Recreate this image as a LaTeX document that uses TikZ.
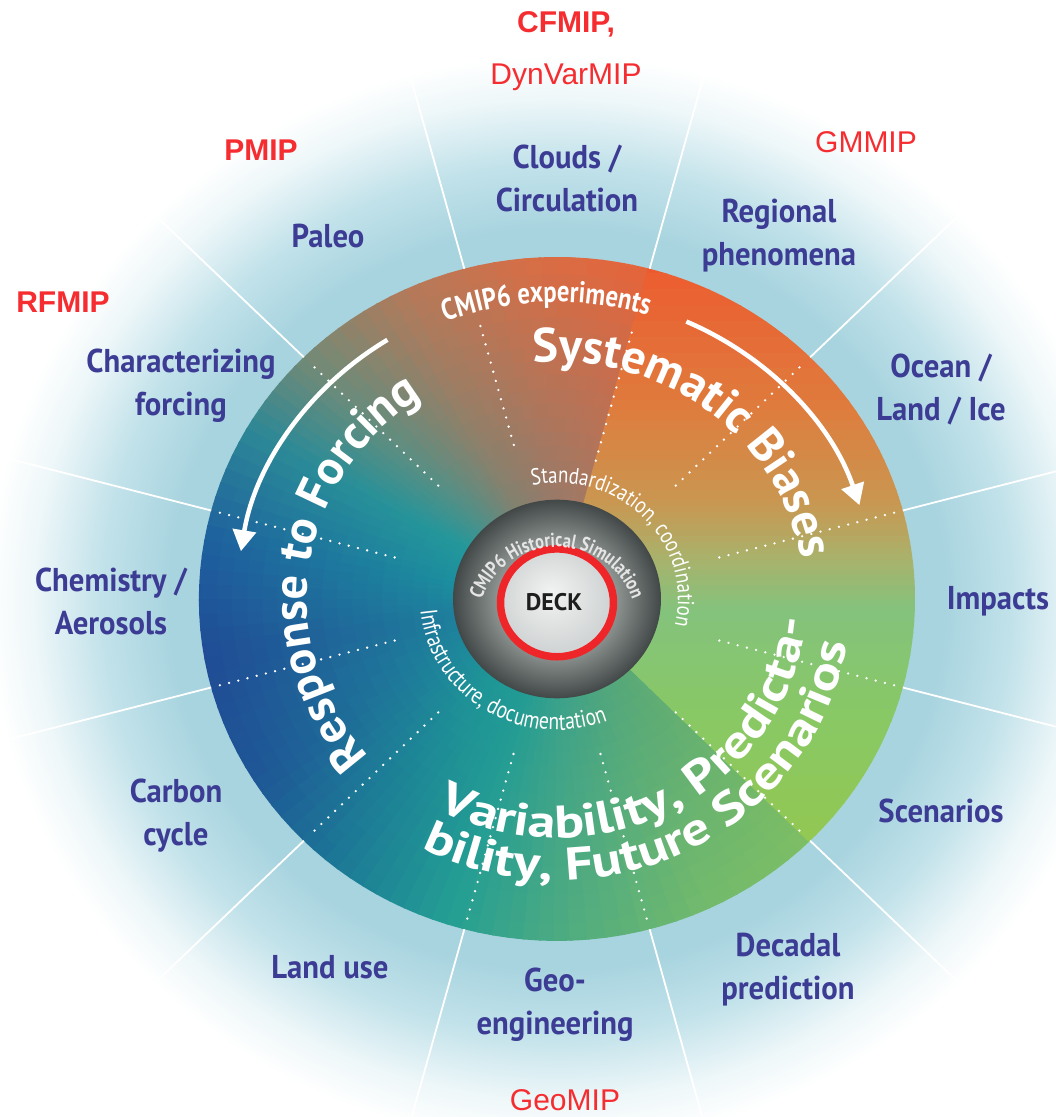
\documentclass[tikz,border=0pt]{standalone}
\usepackage{fontspec}
\setmainfont{PT Sans}
\newfontfamily\lblfont[FakeStretch=0.93]{PT Sans}
\newfontfamily\narrowfont[FakeStretch=0.82]{PT Sans}
\newfontfamily\widefont[FakeStretch=1.21]{PT Sans}
\newfontfamily\mipfont{Liberation Sans}
\usetikzlibrary{arrows.meta,decorations.text}

\definecolor{lblblue}{RGB}{60,60,148}
\definecolor{mipred}{RGB}{246,45,48}
\definecolor{halo}{RGB}{168,212,223}
\definecolor{halomid}{RGB}{194,226,234}
\definecolor{halofade}{RGB}{238,247,249}
\definecolor{hubdark}{RGB}{66,72,72}
\definecolor{hublight}{RGB}{150,156,152}
\definecolor{deckface}{RGB}{242,243,243}
\definecolor{deckedge}{RGB}{210,213,213}
\definecolor{deckred}{RGB}{238,38,42}
\definecolor{deckink}{RGB}{30,30,30}

\definecolor{sa0}{RGB}{238,86,46}
\definecolor{sa1}{RGB}{224,122,60}
\definecolor{sa2}{RGB}{202,150,80}
\definecolor{sa3}{RGB}{168,178,108}
\definecolor{sa4}{RGB}{132,195,124}
\definecolor{sa5}{RGB}{136,200,100}
\definecolor{sa6}{RGB}{148,200,80}

\definecolor{ri0}{RGB}{165,120,98}   \definecolor{ro0}{RGB}{230,100,58}
\definecolor{ri1}{RGB}{152,122,104}  \definecolor{ro1}{RGB}{214,110,70}
\definecolor{ri2}{RGB}{128,130,112}  \definecolor{ro2}{RGB}{180,122,90}
\definecolor{ri3}{RGB}{75,145,138}   \definecolor{ro3}{RGB}{115,138,118}
\definecolor{ri4}{RGB}{35,152,155}   \definecolor{ro4}{RGB}{45,135,150}
\definecolor{ri5}{RGB}{28,142,158}   \definecolor{ro5}{RGB}{30,96,158}
\definecolor{ri6}{RGB}{30,125,156}   \definecolor{ro6}{RGB}{32,76,150}
\definecolor{ri7}{RGB}{30,138,155}   \definecolor{ro7}{RGB}{30,86,150}
\definecolor{ri8}{RGB}{30,150,150}   \definecolor{ro8}{RGB}{28,120,150}
\definecolor{ri9}{RGB}{35,155,148}   \definecolor{ro9}{RGB}{35,158,148}
\definecolor{ri10}{RGB}{60,162,138}  \definecolor{ro10}{RGB}{80,172,128}
\definecolor{ri11}{RGB}{80,166,125}  \definecolor{ro11}{RGB}{115,186,108}
\definecolor{ri12}{RGB}{92,170,118}  \definecolor{ro12}{RGB}{125,190,100}

\pgfdeclareradialshading{haloshade}{\pgfpoint{0bp}{0bp}}{color(0bp)=(halo); color(17bp)=(halo); color(20bp)=(halomid); color(23bp)=(halofade); color(25bp)=(white); color(50bp)=(white)}
\pgfdeclareradialshading{hubshade}{\pgfpoint{0bp}{0bp}}{color(0bp)=(hublight); color(13bp)=(hublight); color(25bp)=(hubdark); color(50bp)=(hubdark)}
\pgfdeclareradialshading{deckshade}{\pgfpoint{-3bp}{5bp}}{color(0bp)=(deckface); color(25bp)=(deckedge); color(50bp)=(deckedge)}

\newcommand\bigring{\color{white}\bfseries\fontsize{48}{50}\selectfont}
\newcommand\varring{\color{white}\widefont\bfseries\fontsize{46}{48}\selectfont}
\newcommand\smallring{\color{white}\narrowfont\fontsize{23}{26}\selectfont}
\newcommand\lowring{\color{white}\narrowfont\fontsize{24}{26}\selectfont}
\newcommand\toparc{\color{white}\narrowfont\bfseries\fontsize{30}{32}\selectfont}
\newcommand\hubring{\color{white!90!black}\narrowfont\bfseries\fontsize{20}{22}\selectfont}

\begin{document}
\begin{tikzpicture}[x=1pt, y=1pt,
  ringspoke/.style={white, line width=1.8pt},
  ringdots/.style={white, line width=2.6pt, line cap=round, dash pattern=on 0pt off 9.5pt},
  flowarrow/.style={white, line width=4.5pt, -{Triangle[length=21pt, width=23pt]}},
  lbl/.style={text=lblblue, align=center, inner sep=0pt, font=\lblfont\bfseries\fontsize{33}{43}\selectfont},
  mip/.style={text=mipred, anchor=base, inner sep=0pt, font=\mipfont\fontsize{30}{34}\selectfont},
  mipbold/.style={mip, font=\mipfont\bfseries\fontsize{30}{34}\selectfont}]

\useasboundingbox (-557,-518) rectangle (499,599);
\fill[white] (-557,-518) rectangle (499,599);

\begin{scope}[yscale=0.955]
\shade[shading=haloshade] (0,0) circle[radius=570pt];

\begin{scope}
\clip (0,0) -- (75:358pt) arc[start angle=75, end angle=315, radius=358pt] -- cycle;
\foreach \sa/\sb/\ia/\ib/\oa/\ob in {75/95/ri0/ri1/ro0/ro1, 95/115/ri1/ri2/ro1/ro2,
    115/135/ri2/ri3/ro2/ro3, 135/150/ri3/ri4/ro3/ro4, 150/170/ri4/ri5/ro4/ro5,
    170/190/ri5/ri6/ro5/ro6, 190/212/ri6/ri7/ro6/ro7, 212/232/ri7/ri8/ro7/ro8,
    232/252/ri8/ri9/ro8/ro9, 252/272/ri9/ri10/ro9/ro10, 272/295/ri10/ri11/ro10/ro11,
    295/315/ri11/ri12/ro11/ro12}
  \foreach \i in {0,...,7}{
    \pgfmathsetmacro\anga{\sa+(\sb-\sa)*\i/8}
    \pgfmathsetmacro\angb{\sa+(\sb-\sa)*(\i+1)/8+0.4}
    \pgfmathtruncatemacro\mix{100-(\i+0.5)*12.5}
    \colorlet{cin}{\ia!\mix!\ib}
    \colorlet{cout}{\oa!\mix!\ob}
    \foreach \rad in {100,115,...,355}{
      \pgfmathsetmacro\radb{\rad+16}
      \pgfmathtruncatemacro\rmix{max(0,min(100,(\rad+7.5-110)/2.4))}
      \fill[cout!\rmix!cin] (\anga:\rad pt) arc[start angle=\anga, end angle=\angb, radius=\rad pt]
        -- (\angb:\radb pt) arc[start angle=\angb, end angle=\anga, radius=\radb pt] -- cycle;
    }
  }
\end{scope}

\begin{scope}
\clip (0,0) -- (-45.3:358pt) arc[start angle=-45.3, end angle=75.3, radius=358pt] -- cycle;
\foreach \ya/\yb/\ca/\cb in {375/208/sa0/sa1, 208/104/sa1/sa2, 104/41/sa2/sa3,
    41/-12/sa3/sa4, -12/-127/sa4/sa5, -127/-270/sa5/sa6}
  \foreach \i in {0,...,9}{
    \pgfmathsetmacro\ytop{\ya+(\yb-\ya)*\i/10}
    \pgfmathsetmacro\ybot{\ya+(\yb-\ya)*(\i+1)/10-1.5}
    \pgfmathtruncatemacro\mix{95-10*\i}
    \fill[\ca!\mix!\cb] (-5,\ytop) rectangle (365,\ybot);
  }
\end{scope}

\foreach \a in {15,45,...,345}
  \draw[ringspoke] (\a:358pt) -- (\a:575pt);
\foreach \a in {15,45,135,165,195,225,255,285,315,345}
  \draw[ringdots] (\a:168pt) -- (\a:352pt);
\draw[ringdots] (75:150pt) -- (75:298pt);
\draw[ringdots] (105:167pt) -- (105:300pt);

\draw[flowarrow] (66:318pt) arc[start angle=66, end angle=18, radius=318pt];
\draw[flowarrow] (122:320pt) arc[start angle=122, end angle=171, radius=320pt];

\shade[shading=hubshade] (0,0) circle[radius=104pt];
\shade[shading=deckshade] (0,-4) circle[radius=54pt];
\draw[deckred, line width=7.5pt] (0,-4) circle[radius=56.5pt];
\end{scope}

\path[decorate, decoration={text along path, text align=center, text={|\toparc|CMIP6 experiments}}]
  (135:311pt and 297pt) arc[start angle=135, end angle=49, x radius=311pt, y radius=297pt];
\path[decorate, decoration={text along path, text align=center, text={|\bigring|Systematic Biases}}]
  (122:248pt and 237pt) arc[start angle=122, end angle=-18, x radius=248pt, y radius=237pt];
\path[decorate, decoration={text along path, text align=center, text={|\bigring|Response to Forcing}}]
  (242:250pt and 239pt) arc[start angle=242, end angle=102, x radius=250pt, y radius=239pt];
\path[decorate, decoration={text along path, text align=center, text={|\varring|Variability{,} Predicta-}}]
  (-141:250pt and 239pt) arc[start angle=-141, end angle=18, x radius=250pt, y radius=239pt];
\path[decorate, decoration={text along path, text align=center, text={|\varring|bility{,} Future Scenarios}}]
  (-143:294pt and 281pt) arc[start angle=-143, end angle=17, x radius=294pt, y radius=281pt];
\path[decorate, decoration={text along path, text align=center, text={|\smallring|Standardization{,} coordination}}]
  (119:121pt and 116pt) arc[start angle=119, end angle=-31, x radius=121pt, y radius=116pt];
\path[decorate, decoration={text along path, text align=center, text={|\lowring|Infrastructure{,} documentation}}]
  (163:137pt and 131pt) arc[start angle=163, end angle=313, x radius=137pt, y radius=131pt];
\path[shift={(0,-24)}, decorate, decoration={text along path, text align=center, text={|\hubring|CMIP6 Historical Simulation}}]
  (205:79pt and 76pt) arc[start angle=205, end angle=-25, x radius=79pt, y radius=76pt];

\node[font=\bfseries\fontsize{24}{24}\selectfont, text=deckink] (deck) at (-3,-3) {DECK};

\node[lbl] (clouds) at (10,421) {Clouds /\\Circulation};
\node[lbl] (regional) at (222,363) {Regional\\phenomena};
\node[lbl] (ocean) at (384,209) {Ocean /\\Land / Ice};
\node[lbl] (impacts) at (441,-2) {Impacts};
\node[lbl] (scenarios) at (384,-212) {Scenarios};
\node[lbl] (decadal) at (231,-371) {Decadal\\prediction};
\node[lbl] (geo) at (-2,-406) {Geo-\\engineering};
\node[lbl] (landuse) at (-227,-368) {Land use};
\node[lbl] (carbon) at (-381,-217) {Carbon\\cycle};
\node[lbl] (chemistry) at (-446,-2) {Chemistry /\\Aerosols};
\node[lbl] (forcing) at (-376,213) {Characterizing\\forcing};
\node[lbl] (paleo) at (-229,363) {Paleo};

\node[mipbold] (cfmip) at (9,566) {CFMIP,};
\node[mip] (dynvar) at (9,514) {DynVarMIP};
\node[mipbold] (pmip) at (-296,438) {PMIP};
\node[mip] (gmmip) at (309,446) {GMMIP};
\node[mipbold] (rfmip) at (-494,286) {RFMIP};
\node[mip] (geomip) at (8,-511) {GeoMIP};
\end{tikzpicture}
\end{document}
